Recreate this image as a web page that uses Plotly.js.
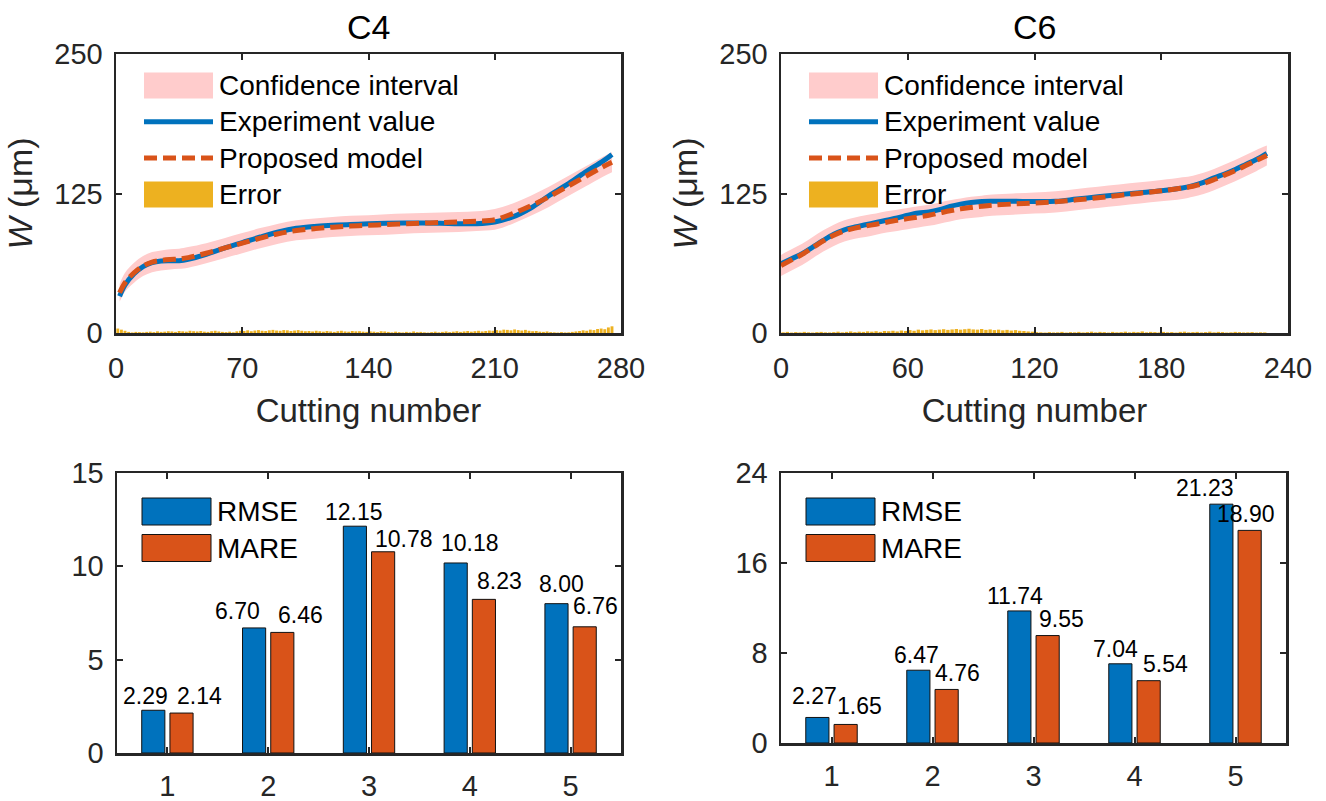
<!DOCTYPE html>
<html>
<head>
<meta charset="utf-8">
<script src="https://cdn.plot.ly/plotly-3.0.1.min.js"></script>
<style>html,body{margin:0;padding:0;background:#fff;}#chart{width:1326px;height:801px;}</style>
</head>
<body>
<div id="chart"></div>
<script>
// ---------------- DATA ----------------
const c4Cut = [2,5,10,15,20,25,30,35,40,50,60,70,80,90,100,110,120,130,140,150,160,170,180,190,200,210,220,230,240,250,260,270,275];
const c4Experiment = [33,43,53,59.5,63,64.5,64.8,64.8,66,70.5,76,81,86,90.5,93.8,95.5,96.5,97.3,97.8,98.3,98.6,98.6,98.4,98,98,99.5,104,112,123,133,144,154,160];
const c4Model = [36,45,54,60,63.5,65,65.8,66.3,67.5,71.5,76,80.5,85,89,91.8,93.5,94.8,95.8,96.5,97.2,97.8,98.4,99,99.5,100.2,101.5,107,114,122,131,140,149,153];
const c4Upper = [44,54,63,69,72.5,74,75,75.5,77,80.5,85,89.5,94,98,101,102.5,104,105,105.5,106.5,107,107.5,108,108.5,109,111,116,123,131,140,149,158,162];
const c4Lower = [28,37,45,51,54.5,56,57,57.5,58.5,62.5,67,71.5,76,80,83,84.5,86,87,87.5,88,89,89.5,90,90.5,91.5,92.5,98,105,113,122,131,140,144];
const c4Error = [4,3,2,
  1,0.5,1,0.8,0.6,1,1.2,0.8,1.5,1,1.2,1.6,1.4,1,1.8,1.5,1.2,2,1.6,1.4,1.8,1.2,1,1.6,2,1.4,1,
  0.8,1.2,0.6,1.5,2,1.8,2.4,1.6,2.2,2.6,2,1.8,2.4,2.8,2.2,2,2.6,2.4,1.8,2.2,2.6,2,1.6,1.8,1.4,2,1.6,1.2,1.8,1.4,1,1.6,2,1.4,1.2,1.8,1.5,1.6,1.2,1,1.4,1.2,0.8,1.6,1.4,
  1,0.6,1.2,0.8,0.5,1,0.6,1.4,0.8,1,0.6,0.4,0.8,1.2,0.6,1,1.4,0.8,1.2,1.6,1,1.4,1.8,1.2,1.6,2,1.4,1.8,2.2,2,
  2.6,2.2,3,2.8,2.4,3.2,2.6,2.2,2.8,2,1.6,1.8,1.2,1,1.4,0.8,0.6,0.4,0.8,0.5,0.6,
  1,1.4,1.8,2.4,2,3,2.6,3.6,4,3.4,5,6];

const c6Cut = [0,5,10,15,20,25,30,35,40,45,50,55,60,65,70,75,80,85,90,95,100,110,120,130,140,150,160,170,180,190,195,200,205,210,215,220,225,230];
const c6Experiment = [62,66.5,71,77,83,88.5,92.5,95,97,99,101,103,105.5,107.5,108.5,110.5,113.4,115.5,117,117.8,118,118,117.8,118,120,122,124,125.7,127.5,130,132,135,139,142.5,146.5,151,155.5,161];
const c6Model = [60.5,65.5,70.5,76.5,82.5,87.5,91.5,94,95.8,97.5,99.3,101,102.5,104,105.5,107.5,109.5,111.2,112.5,113.6,114.5,115.6,116.5,117.6,119.3,121.2,123.3,125.3,127.4,129.8,131.5,134,137.5,141.5,145.5,150,154.5,159];
const c6Upper = [70,75,80,86,92,97,101,103.5,105.5,107,109,110.5,112,113.5,115,117,119,120.5,122,123,124,125,126,127,129,131,133,135,137,139.5,141,143.5,147,151,155,159.5,164,168];
const c6Lower = [51,56,61,67,73,78,82,84.5,86,88,90,91.5,93,94.5,96,98,100,102,103,104,105,106,107,108,110,112,114,116,118,120,122,124.5,128,132,136,140.5,145,150];
const c6Error = [0.6,1,0.4,0.8,0.5,1,0.6,0.4,0.8,1,0.6,0.5,0.8,1.2,0.6,1,1.4,0.8,1.2,1,1.5,1.2,1.6,1,1.8,
  1.6,2,1.4,2.2,1.8,2.6,2,3,2.4,2.8,3.2,2.6,3,3.4,2.8,3.2,3.6,3,3.4,3.8,3.2,3,3.6,2.8,3.2,2.6,3,2.4,2.8,2.2,2.6,2,1.8,1.4,1.2,
  0.8,0.6,0.4,0.8,0.5,0.6,1,0.4,0.8,0.6,1,0.5,0.8,1.2,0.6,1,0.8,0.4,1,0.6,0.8,1.2,0.6,1,0.8,1.4,0.6,1,0.8,0.5,1,0.6,0.8,0.4,1,1.2,0.6,0.8,1,0.5,0.8,1.2,0.6,1,0.8,0.4,0.6,1,0.8,0.5,0.6,0.8,0.4,0.6,0.5];

const metricCases = [1,2,3,4,5];
const c4RMSE = [2.29,6.70,12.15,10.18,8.00];
const c4MARE = [2.14,6.46,10.78,8.23,6.76];
const c6RMSE = [2.27,6.47,11.74,7.04,21.23];
const c6MARE = [1.65,4.76,9.55,5.54,18.90];

const topTitles = ['C4','C6'];
const xTitle = 'Cutting number';
const yTitle = '<i>W</i> (μm)';
const topLegend = ['Confidence interval','Experiment value','Proposed model','Error'];
const barLegend = ['RMSE','MARE'];

// ---------------- STYLE ----------------
const F = 'Liberation Sans, Arial, sans-serif';
const INK = '#262626';
const BLUE = '#0072BD', ORANGE = '#D95319', YELLOW = '#EDB120', PINK = '#FFCCCC';
const W = 1326, H = 801;
const fx = p => p / W, fy = p => 1 - p / H;
const errX = (arr) => arr.map((_, i) => 1 + 2 * i);

// value-label placement (offset in category units, lift in px) as in the original figure
const c4LabelStyle = {rmseDx: [-0.22,-0.30,-0.15,0.0,-0.09], rmseLift: [0,3,0,6,5.5], mareDx: [0.32,0.32,0.35,0.29,0.25], mareLift: [3,3.4,-1,4.3,7]};
const c6LabelStyle = {rmseDx: [-0.17,-0.16,-0.18,-0.19,-0.30], rmseLift: [7.5,1.2,1,0.8,2.2], mareDx: [0.28,0.25,0.28,0.31,0.10], mareLift: [4.4,2.5,2.6,2.7,2.4]};

function lineSet(cut, lo, up, exp, model, err, xa, ya) {
  return [
    {x: cut, y: lo, xaxis: xa, yaxis: ya, type: 'scatter', mode: 'lines', line: {width: 0, shape: 'spline', color: PINK}, showlegend: false, hoverinfo: 'skip'},
    {x: cut, y: up, xaxis: xa, yaxis: ya, type: 'scatter', mode: 'lines', fill: 'tonexty', fillcolor: PINK, line: {width: 0, shape: 'spline', color: PINK}, name: topLegend[0], showlegend: false},
    {x: errX(err), y: err, xaxis: xa, yaxis: ya, type: 'bar', width: 1.6, marker: {color: YELLOW, line: {width: 0}}, name: topLegend[3], showlegend: false},
    {x: cut, y: exp, xaxis: xa, yaxis: ya, type: 'scatter', mode: 'lines', line: {color: BLUE, width: 5, shape: 'spline'}, name: topLegend[1], showlegend: false},
    {x: cut, y: model, xaxis: xa, yaxis: ya, type: 'scatter', mode: 'lines', line: {color: ORANGE, width: 5, dash: '13px,6px', shape: 'spline'}, name: topLegend[2], showlegend: false}
  ];
}
function barSet(r, m, xa, ya) {
  const common = {x: metricCases, xaxis: xa, yaxis: ya, type: 'bar', showlegend: false};
  return [
    Object.assign({}, common, {y: r, name: barLegend[0], marker: {color: BLUE, line: {color: '#111', width: 1}}}),
    Object.assign({}, common, {y: m, name: barLegend[1], marker: {color: ORANGE, line: {color: '#111', width: 1}}})
  ];
}

const data = [].concat(
  lineSet(c4Cut, c4Lower, c4Upper, c4Experiment, c4Model, c4Error, 'x', 'y'),
  lineSet(c6Cut, c6Lower, c6Upper, c6Experiment, c6Model, c6Error, 'x2', 'y2'),
  barSet(c4RMSE, c4MARE, 'x3', 'y3'),
  barSet(c6RMSE, c6MARE, 'x4', 'y4')
);

const axBase = {showline: true, linecolor: INK, linewidth: 2.5, mirror: 'ticks', ticks: 'inside', ticklen: 6, tickwidth: 2,
  tickcolor: INK, showgrid: false, zeroline: false, fixedrange: true, tickfont: {family: F, size: 29, color: INK}};
const ax = (o) => Object.assign({}, axBase, o);

const P = {
  A: {l: 116, r: 621, t: 54, b: 333},
  B: {l: 781, r: 1288, t: 54, b: 333},
  C: {l: 117, r: 621, t: 473, b: 753},
  D: {l: 781, r: 1286, t: 473, b: 743}
};

const shapes = [], annotations = [];
function topLegendAt(p) {
  const rows = [85.5, 121.8, 158.1, 194.4];
  const x0 = fx(p.l + 28), x1 = fx(p.l + 97);
  shapes.push({type: 'rect', xref: 'paper', yref: 'paper', x0, x1, y0: fy(rows[0] - 13), y1: fy(rows[0] + 13), fillcolor: PINK, line: {width: 0}});
  shapes.push({type: 'line', xref: 'paper', yref: 'paper', x0, x1, y0: fy(rows[1]), y1: fy(rows[1]), line: {color: BLUE, width: 5}});
  shapes.push({type: 'line', xref: 'paper', yref: 'paper', x0, x1, y0: fy(rows[2]), y1: fy(rows[2]), line: {color: ORANGE, width: 5, dash: '13px,6px'}});
  shapes.push({type: 'rect', xref: 'paper', yref: 'paper', x0, x1, y0: fy(rows[3] - 13), y1: fy(rows[3] + 13), fillcolor: YELLOW, line: {width: 0}});
  topLegend.forEach((t, i) => annotations.push({text: t, xref: 'paper', yref: 'paper', x: fx(p.l + 101), y: fy(rows[i]),
    xanchor: 'left', yanchor: 'middle', showarrow: false, font: {family: F, size: 28, color: '#000'}}));
}
function barLegendAt(p) {
  const rows = [511.5, 548];
  const cols = [BLUE, ORANGE];
  rows.forEach((r, i) => {
    shapes.push({type: 'rect', xref: 'paper', yref: 'paper', x0: fx(p.l + 25), x1: fx(p.l + 94), y0: fy(r - 13.5), y1: fy(r + 13.5),
      fillcolor: cols[i], line: {color: '#111', width: 1}});
    annotations.push({text: barLegend[i], xref: 'paper', yref: 'paper', x: fx(p.l + 98), y: fy(r), xanchor: 'left', yanchor: 'middle',
      showarrow: false, font: {family: F, size: 28, color: '#000'}});
  });
}
function barLabels(r, m, st, xa, ya) {
  const add = (vals, dx, lift) => vals.forEach((v, i) => annotations.push({
    text: v.toFixed(2), xref: xa, yref: ya, x: metricCases[i] + dx[i], y: v, xanchor: 'center', yanchor: 'bottom',
    yshift: lift[i], showarrow: false, borderpad: 0, font: {family: F, size: 23, color: '#000'}}));
  add(r, st.rmseDx, st.rmseLift);
  add(m, st.mareDx, st.mareLift);
}
topLegendAt(P.A); topLegendAt(P.B); barLegendAt(P.C); barLegendAt(P.D);
barLabels(c4RMSE, c4MARE, c4LabelStyle, 'x3', 'y3');
barLabels(c6RMSE, c6MARE, c6LabelStyle, 'x4', 'y4');
[P.A, P.B].forEach((p, i) => annotations.push({text: topTitles[i], xref: 'paper', yref: 'paper', x: fx((p.l + p.r) / 2), y: fy(27),
  xanchor: 'center', yanchor: 'middle', showarrow: false, font: {family: F, size: 34, color: '#000'}}));

const xTitleObj = {text: xTitle, font: {family: F, size: 33, color: INK}, standoff: 16};
const yTitleObj = {text: yTitle, font: {family: F, size: 34, color: INK}, standoff: 12};

const layout = {
  width: W, height: H, autosize: false,
  margin: {l: 0, r: 0, t: 0, b: 0},
  paper_bgcolor: '#fff', plot_bgcolor: '#fff',
  showlegend: false,
  barmode: 'group', bargap: 0.44, bargroupgap: 0.18,
  font: {family: F, color: INK},
  xaxis: ax({domain: [fx(P.A.l), fx(P.A.r)], anchor: 'y', range: [0, 280], tickvals: [0, 70, 140, 210, 280], ticklabelstandoff: 8, title: xTitleObj}),
  yaxis: ax({domain: [fy(P.A.b), fy(P.A.t)], anchor: 'x', range: [0, 250], tickvals: [0, 125, 250], ticklabelstandoff: 5, title: yTitleObj}),
  xaxis2: ax({domain: [fx(P.B.l), fx(P.B.r)], anchor: 'y2', range: [0, 240], tickvals: [0, 60, 120, 180, 240], ticklabelstandoff: 8, title: xTitleObj}),
  yaxis2: ax({domain: [fy(P.B.b), fy(P.B.t)], anchor: 'x2', range: [0, 250], tickvals: [0, 125, 250], ticklabelstandoff: 5, title: yTitleObj}),
  xaxis3: ax({domain: [fx(P.C.l), fx(P.C.r)], anchor: 'y3', range: [0.5, 5.5], tickvals: metricCases, ticklabelstandoff: 6}),
  yaxis3: ax({domain: [fy(P.C.b), fy(P.C.t)], anchor: 'x3', range: [0, 15], tickvals: [0, 5, 10, 15], ticklabelstandoff: 5}),
  xaxis4: ax({domain: [fx(P.D.l), fx(P.D.r)], anchor: 'y4', range: [0.5, 5.5], tickvals: metricCases, ticklabelstandoff: 6}),
  yaxis4: ax({domain: [fy(P.D.b), fy(P.D.t)], anchor: 'x4', range: [0, 24], tickvals: [0, 8, 16, 24], ticklabelstandoff: 5}),
  shapes, annotations
};

Plotly.newPlot('chart', data, layout, {displayModeBar: false, staticPlot: true});
</script>
</body>
</html>
